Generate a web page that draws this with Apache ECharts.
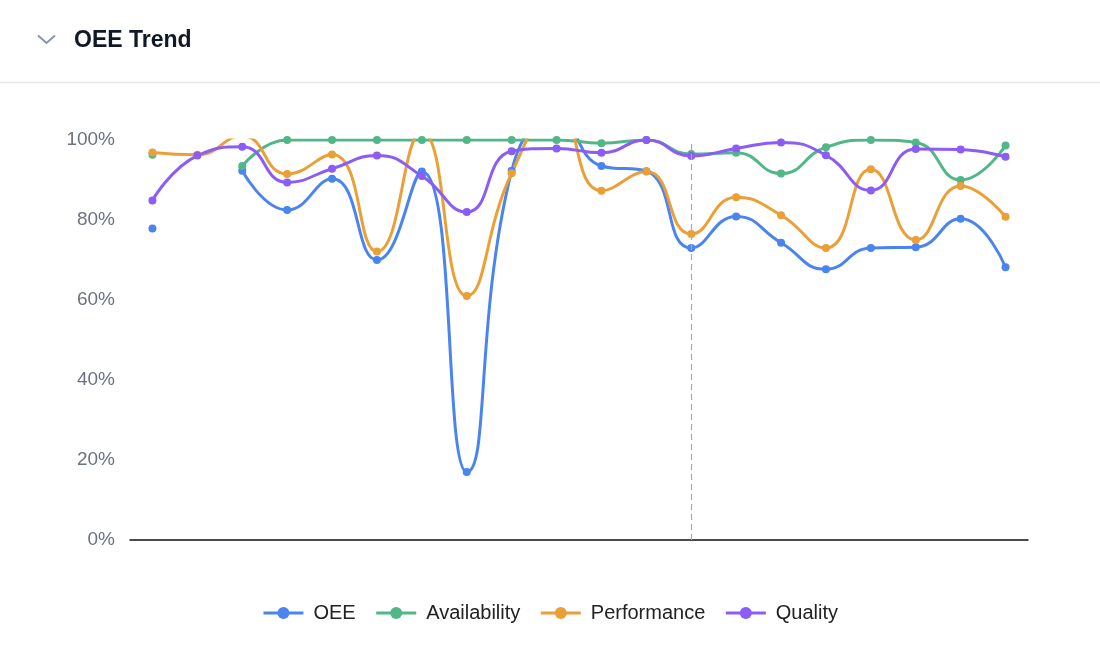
<!DOCTYPE html>
<html>
<head>
<meta charset="utf-8">
<script src="https://cdn.jsdelivr.net/npm/echarts@6/dist/echarts.min.js"></script>
<style>
html,body{margin:0;padding:0;background:#fff;}
#chart{width:1100px;height:664px;}
</style>
</head>
<body>
<div id="chart"></div>
<script>
// ---- data ----
const categories = ['D1','D2','D3','D4','D5','D6','D7','D8','D9','D10','D11','D12','D13','D14','D15','D16','D17','D18','D19','D20'];
const oee          = [77.9, null, 92.3, 82.5, 90.3, 70.0, 92.1, 17.0, 92.3, 106.0, 93.5, 92.2, 73.0, 80.9, 74.3, 67.7, 73.0, 73.2, 80.3, 68.2];
const availability = [96.3, null, 93.5, 100, 100, 100, 100, 100, 100, 100, 99.2, 100, 96.5, 96.8, 91.6, 98.2, 100, 99.4, 90.0, 98.6];
const performance  = [96.9, 96.3, 101.0, 91.5, 96.4, 72.1, 102.0, 61.0, 91.7, 108.0, 87.3, 92.1, 76.5, 85.7, 81.2, 73.0, 92.7, 75.0, 88.5, 80.8];
const quality      = [84.9, 96.1, 98.3, 89.4, 92.8, 96.1, 91.0, 82.0, 97.2, 97.9, 96.8, 100, 96.0, 97.9, 99.4, 96.2, 87.4, 97.75, 97.6, 95.8];
const yTicks = [0, 20, 40, 60, 80, 100];
const seriesNames = ['OEE', 'Availability', 'Performance', 'Quality'];
const markerCategory = categories[12];
const titleText = 'OEE Trend';

const colors = ['#4a84f0', '#52b788', '#eba037', '#8b5cf6'];
const values = [oee, availability, performance, quality];

const chart = echarts.init(document.getElementById('chart'), null, {renderer: 'canvas'});

const series = seriesNames.map((name, i) => {
  const s = {
    name: name,
    type: 'line',
    data: values[i],
    smooth: true,
    connectNulls: false,
    clip: true,
    symbol: 'circle',
    symbolSize: 8,
    showSymbol: true,
    lineStyle: {width: 3, color: colors[i]},
    itemStyle: {color: colors[i]},
    emphasis: {disabled: true}
  };
  if (i === 0) {
    s.markLine = {
      silent: true,
      symbol: 'none',
      label: {show: false},
      lineStyle: {color: '#a3aab8', type: [6, 4], width: 1.2},
      data: [{xAxis: markerCategory}]
    };
  }
  return s;
});

chart.setOption({
  animation: false,
  color: colors,
  title: {
    text: titleText,
    left: 69,
    top: 24,
    textStyle: {fontFamily: 'Liberation Sans', fontWeight: 'bold', fontSize: 23, color: '#111827'}
  },
  graphic: [
    {type: 'polyline', shape: {points: [[38, 35.5], [46.5, 43], [55, 35.5]]},
     style: {stroke: '#8a94a6', lineWidth: 2, fill: null}},
    {type: 'line', shape: {x1: 0, y1: 82.5, x2: 1100, y2: 82.5},
     style: {stroke: '#e5e7eb', lineWidth: 1.5}}
  ],
  legend: {
    data: seriesNames,
    left: 'center',
    top: 598,
    itemWidth: 40,
    itemHeight: 15,
    itemGap: 19,
    lineStyle: {width: 3},
    textStyle: {fontFamily: 'Liberation Sans', fontSize: 20, color: '#222', padding: [0, 0, 0, 5]}
  },
  grid: {left: 130, right: 72, top: 140, bottom: 124, containLabel: false},
  xAxis: {
    type: 'category',
    data: categories,
    boundaryGap: true,
    axisLine: {show: true, lineStyle: {color: '#111', width: 1.5}},
    axisTick: {show: false},
    axisLabel: {show: false},
    splitLine: {show: false}
  },
  yAxis: {
    type: 'value',
    min: yTicks[0],
    max: yTicks[yTicks.length - 1],
    interval: yTicks[1] - yTicks[0],
    axisLine: {show: false},
    axisTick: {show: false},
    splitLine: {show: false},
    axisLabel: {
      formatter: '{value}%',
      margin: 15,
      fontFamily: 'Liberation Sans',
      fontSize: 19,
      color: '#6b7280'
    }
  },
  series: series
});
</script>
</body>
</html>
